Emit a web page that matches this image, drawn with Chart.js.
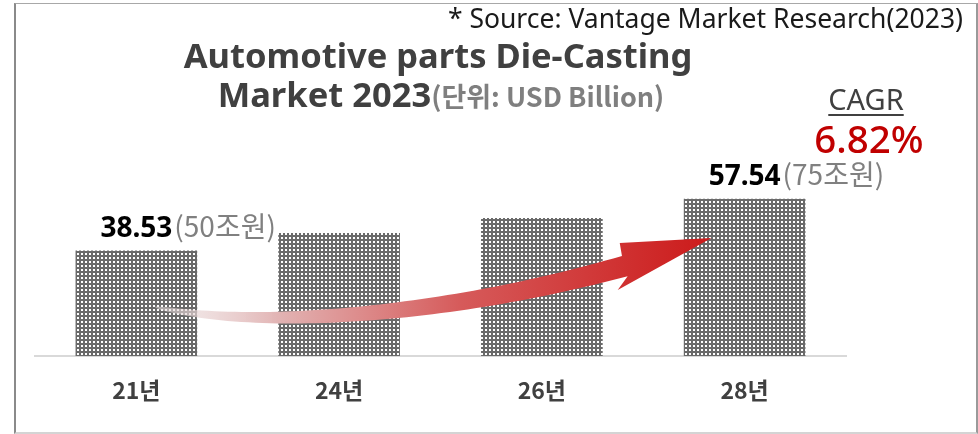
<!DOCTYPE html>
<html>
<head>
<meta charset="utf-8">
<script src="https://cdn.jsdelivr.net/npm/chart.js@4.4.1/dist/chart.umd.min.js"></script>
<style>
  html, body { margin:0; padding:0; background:#fff; }
  #wrap { position:relative; width:978px; height:434px; overflow:hidden; }
  #c { position:absolute; left:0; top:0; }
  .frame { position:absolute; left:14px; top:3px; width:960px; height:428px;
           border-left:2px solid #8a8a8a; border-right:2px solid #9a9a9a;
           border-top:1px solid #a8a8a8; border-bottom:2px solid #d4d4d4; }
  .t { position:absolute; white-space:nowrap; line-height:1; font-family:"Noto Sans","Noto Sans CJK KR",sans-serif; }
</style>
</head>
<body>
<div id="wrap">
  <canvas id="c" width="978" height="434"></canvas>
  <div class="frame"></div>
  <div class="t" id="source" style="right:15px; top:5px; font-size:26.5px; color:#1a1a1a;">* Source: Vantage Market Research(2023)</div>
  <div class="t" style="left:0; width:876px; text-align:center; top:38px; font-size:34.5px; font-weight:700; color:#404040;">Automotive parts Die-Casting</div>
  <div class="t" style="left:0; width:882px; text-align:center; top:77px; font-size:34.5px; font-weight:700; color:#404040;">Market 2023<span style="font-size:27px; color:#7f7f7f; font-family:'Noto Sans CJK KR','Noto Sans',sans-serif;">(단위: USD Billion)</span></div>
  <div class="t" style="left:766px; width:200px; text-align:center; top:84px; font-size:29px; color:#404040; text-decoration:underline; text-decoration-thickness:2px; text-underline-offset:4px;">CAGR</div>
  <div class="t" style="left:769px; width:200px; text-align:center; top:119px; font-size:38.5px; font-weight:500; color:#c00000;">6.82%</div>
</div>
<script>
// ---- data ----
const categories = ['21년', '24년', '26년', '28년'];
const marketValues = [38.53, 45.0, 50.5, 57.54];
const valueLabels = ['38.53', null, null, '57.54'];
const krwLabels = ['(50조원)', null, null, '(75조원)'];
const yMin = 0;
const yMax = 100;

// ---- dotted bar pattern ----
function makePattern(ctx) {
  const p = document.createElement('canvas');
  p.width = 4; p.height = 4;
  const pc = p.getContext('2d');
  pc.fillStyle = '#6a6a6a';
  pc.fillRect(0, 0, 4, 4);
  pc.fillStyle = '#ffffff';
  pc.fillRect(1, 1, 2, 2);
  return ctx.createPattern(p, 'repeat');
}

// decorative growth arrow, in (category index, value) units
const arrowCurve = [[0.094, 17.9], [0.611, 9.5], [1.547, 15.0], [2.409, 32.9]];
const arrowHead = { top: [2.384, 41.3], tip: [2.837, 43.1], bottom: [2.374, 24.1] };

const arrowPlugin = {
  id: 'arrow',
  afterDatasetsDraw(chart) {
    const { ctx, scales: { x, y } } = chart;
    const P = arrowCurve.map(([i, v]) => [x.getPixelForValue(i), y.getPixelForValue(v)]);
    const bez = (t, k) => {
      const u = 1 - t;
      return u*u*u*P[0][k] + 3*u*u*t*P[1][k] + 3*u*t*t*P[2][k] + t*t*t*P[3][k];
    };
    const dbez = (t, k) => {
      const u = 1 - t;
      return 3*u*u*(P[1][k]-P[0][k]) + 6*u*t*(P[2][k]-P[1][k]) + 3*t*t*(P[3][k]-P[2][k]);
    };
    const N = 60, upper = [], lower = [];
    for (let s = 0; s <= N; s++) {
      const t = s / N;
      const px = bez(t, 0), py = bez(t, 1);
      let tx = dbez(t, 0), ty = dbez(t, 1);
      const len = Math.hypot(tx, ty) || 1; tx /= len; ty /= len;
      const w = 0.5 + 10 * Math.pow(t, 0.55);
      upper.push([px + ty * w, py - tx * w]);
      lower.push([px - ty * w, py + tx * w]);
    }
    const hp = k => [x.getPixelForValue(arrowHead[k][0]), y.getPixelForValue(arrowHead[k][1])];
    const top = hp('top'), tip = hp('tip'), bot = hp('bottom');
    ctx.save();
    const g = ctx.createLinearGradient(P[0][0], 0, tip[0], 0);
    g.addColorStop(0, 'rgba(235,228,228,0.5)');
    g.addColorStop(0.22, 'rgba(226,180,180,1)');
    g.addColorStop(0.55, '#d65a5a');
    g.addColorStop(1, '#cc1a1a');
    ctx.fillStyle = g;
    ctx.beginPath();
    ctx.moveTo(upper[0][0], upper[0][1]);
    upper.forEach(p => ctx.lineTo(p[0], p[1]));
    ctx.lineTo(top[0], top[1]);
    ctx.lineTo(tip[0], tip[1]);
    ctx.lineTo(bot[0], bot[1]);
    for (let s = lower.length - 1; s >= 0; s--) ctx.lineTo(lower[s][0], lower[s][1]);
    ctx.closePath();
    ctx.fill();
    ctx.restore();
  }
};

const labelPlugin = {
  id: 'valueLabels',
  afterDatasetsDraw(chart) {
    const { ctx } = chart;
    const meta = chart.getDatasetMeta(0);
    ctx.save();
    ctx.textBaseline = 'alphabetic';
    meta.data.forEach((bar, i) => {
      if (!valueLabels[i]) return;
      const by = bar.y - 14;
      ctx.font = 'bold 28px "Noto Sans", sans-serif';
      const w = ctx.measureText(valueLabels[i]).width;
      ctx.fillStyle = '#000000';
      ctx.textAlign = 'center';
      ctx.fillText(valueLabels[i], bar.x, by);
      if (krwLabels[i]) {
        ctx.font = '28px "Noto Sans CJK KR", "Noto Sans", sans-serif';
        ctx.fillStyle = '#808080';
        ctx.textAlign = 'left';
        ctx.fillText(krwLabels[i], bar.x + w / 2 + 2, by);
      }
    });
    ctx.restore();
  }
};

const ctx = document.getElementById('c').getContext('2d');
new Chart(ctx, {
  type: 'bar',
  data: {
    labels: categories,
    datasets: [{
      data: marketValues,
      backgroundColor: makePattern(ctx),
      borderWidth: 0,
      categoryPercentage: 0.6,
      barPercentage: 1.0
    }]
  },
  options: {
    responsive: false,
    animation: false,
    devicePixelRatio: 1,
    layout: { padding: { left: 35, right: 132, top: 82.5, bottom: 10.4 } },
    plugins: { legend: { display: false }, tooltip: { enabled: false }, title: { display: false } },
    scales: {
      x: {
        grid: { display: false, drawTicks: false },
        border: { display: true, color: '#d9d9d9', width: 2 },
        ticks: { color: '#404040', padding: 20, font: { family: '"Noto Sans CJK KR", "Noto Sans", sans-serif', size: 23, weight: 'bold' } }
      },
      y: { display: false, min: yMin, max: yMax }
    }
  },
  plugins: [arrowPlugin, labelPlugin]
});
</script>
</body>
</html>
